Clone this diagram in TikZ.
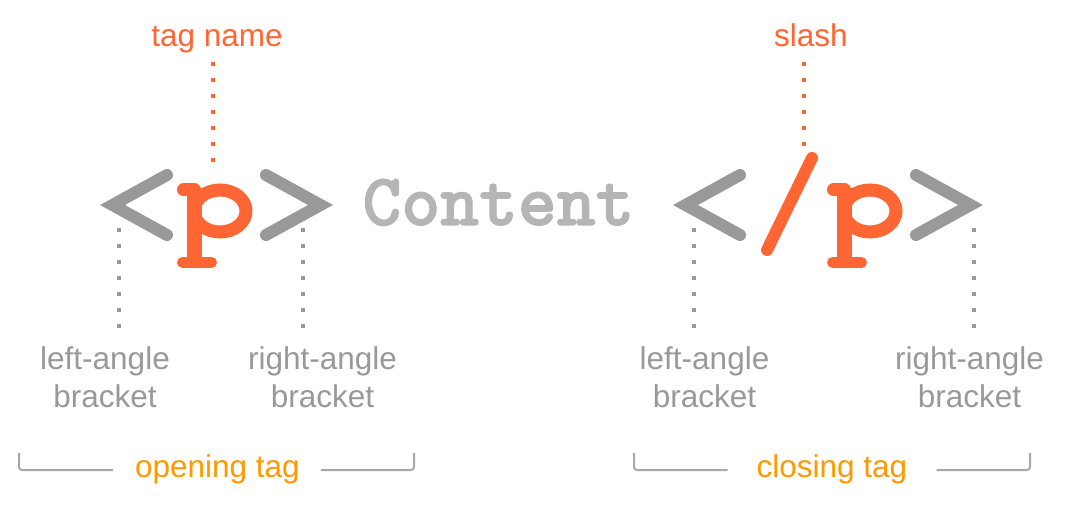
\documentclass[tikz,border=0pt]{standalone}
\usepackage{fontspec}
\setmainfont{Liberation Sans}
\newfontfamily\contentfont{lmmonolt10-bold.otf}[FakeBold=1.6]
\definecolor{tagorange}{RGB}{255,102,51}
\definecolor{tagamber}{RGB}{255,153,0}
\definecolor{taggray}{RGB}{153,153,153}
\definecolor{contentgray}{RGB}{181,181,181}
\definecolor{bracegray}{RGB}{168,168,168}
\tikzset{
    anglemark/.style={draw=taggray, line width=12pt, line cap=round, line join=miter},
    slashmark/.style={draw=tagorange, line width=12pt, line cap=round},
    contenttext/.style={inner sep=0pt, anchor=base, text=contentgray,
        font=\contentfont\fontsize{74}{74}\selectfont},
    partlabel/.style={inner sep=0pt, anchor=north, align=center, text=taggray,
        font=\fontsize{31.5}{38}\selectfont},
    namelabel/.style={inner sep=0pt, anchor=base, text=tagorange,
        font=\fontsize{31.5}{38}\selectfont},
    taglabel/.style={inner sep=0pt, anchor=base, text=tagamber,
        font=\fontsize{31.5}{38}\selectfont},
    graydots/.style={draw=taggray, line width=4pt, dash pattern=on 4pt off 12pt},
    orangedots/.style={draw=tagorange, line width=4pt, dash pattern=on 4pt off 12pt},
    tagbrace/.style={draw=bracegray, line width=2pt, rounded corners=3pt},
    % the letter p of the tag, drawn with strokes
    ptag/.pic={
        \draw[tagorange, line width=15pt] (-19.5,-37) -- (-19.5,36);
        \draw[tagorange, line width=13pt, line cap=round] (-30.5,-35) -- (-19.5,-35);
        \draw[tagorange, line width=13pt] (6,-14) ellipse [x radius=26, y radius=21];
        \draw[tagorange, line width=11pt, line cap=round] (-31.5,37.5) -- (-2.5,37.5);
    }
}

\begin{document}
\begin{tikzpicture}[x=1pt, y=-1pt]
    \useasboundingbox (0,0) rectangle (1073,529);

    % opening tag
    \coordinate (olv) at (112.5,205);
    \coordinate (orv) at (320.5,205);
    \draw[anglemark] ([shift={(54.5,-30)}]olv) -- (olv) -- ([shift={(54.5,30)}]olv);
    \draw[anglemark] ([shift={(-54.5,-30)}]orv) -- (orv) -- ([shift={(-54.5,30)}]orv);
    \pic at (214,225) {ptag};

    % content
    \node[contenttext] (content) at (498.5,225) {Content};

    % closing tag
    \coordinate (clv) at (685.5,205);
    \coordinate (crv) at (970.5,205);
    \draw[anglemark] ([shift={(54.5,-30)}]clv) -- (clv) -- ([shift={(54.5,30)}]clv);
    \draw[anglemark] ([shift={(-54.5,-30)}]crv) -- (crv) -- ([shift={(-54.5,30)}]crv);
    \coordinate (stop) at (812,158);
    \coordinate (sbot) at (767,250);
    \draw[slashmark] (stop) -- (sbot);
    \pic at (864,225) {ptag};

    % labels above
    \node[namelabel] (tagname) at (217,47) {tag name};
    \node[namelabel] (slash) at (811,47) {slash};
    \coordinate (opn) at (213,162);
    \coordinate (csn) at (804,146);
    \draw[orangedots] (opn |- 0,62) -- (opn);
    \draw[orangedots] (csn |- 0,62) -- (csn);

    % labels below
    \node[partlabel] (olab) at (105,346) {left-angle\\bracket};
    \node[partlabel] (orab) at (322.5,346) {right-angle\\bracket};
    \node[partlabel] (clab) at (704.5,346) {left-angle\\bracket};
    \node[partlabel] (crab) at (969.5,346) {right-angle\\bracket};
    \coordinate (olt) at (119,228);
    \coordinate (ort) at (303,228);
    \coordinate (clt) at (694,228);
    \coordinate (crt) at (974,228);
    \foreach \t/\l in {olt/olab, ort/orab, clt/clab, crt/crab}
        \draw[graydots, shorten >=18pt] (\t) -- (\t |- \l.north);

    % tag braces
    \node[taglabel] (otag) at (217.5,477) {opening tag};
    \node[taglabel] (ctag) at (832,477) {closing tag};
    \coordinate (obl) at (19,453);
    \coordinate (obr) at (414,453);
    \coordinate (cbl) at (634,453);
    \coordinate (cbr) at (1030,453);
    \draw[tagbrace] (obl) |- ([xshift=-22pt]otag.west |- 0,470);
    \draw[tagbrace] (obr) |- ([xshift=21pt]otag.east |- 0,470);
    \draw[tagbrace] (cbl) |- ([xshift=-29pt]ctag.west |- 0,470);
    \draw[tagbrace] (cbr) |- ([xshift=29pt]ctag.east |- 0,470);
\end{tikzpicture}
\end{document}
